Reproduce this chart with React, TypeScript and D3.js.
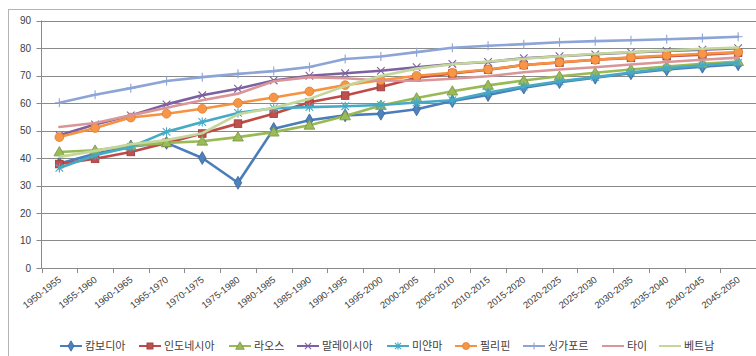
import React from "react";
import * as d3 from "d3";

// Life expectancy by 5-year period, Southeast Asian countries
const periods = [
  "1950-1955", "1955-1960", "1960-1965", "1965-1970", "1970-1975",
  "1975-1980", "1980-1985", "1985-1990", "1990-1995", "1995-2000",
  "2000-2005", "2005-2010", "2010-2015", "2015-2020", "2020-2025",
  "2025-2030", "2030-2035", "2035-2040", "2040-2045", "2045-2050",
];

const cambodia = [38.0, 41.5, 44.2, 45.5, 40.0, 31.0, 50.6, 53.7, 55.5, 56.1, 57.7, 60.7, 62.9, 65.6, 67.6, 69.2, 70.8, 72.2, 73.2, 74.1];
const indonesia = [37.8, 39.7, 42.2, 45.5, 48.9, 52.5, 56.1, 60.3, 62.7, 65.8, 69.2, 70.7, 72.1, 73.8, 74.7, 75.7, 76.4, 77.0, 77.6, 78.3];
const laos = [42.2, 42.8, 44.4, 45.5, 46.1, 47.6, 49.4, 51.9, 55.3, 59.1, 61.8, 64.3, 66.4, 68.2, 69.7, 71.0, 72.2, 73.3, 74.3, 75.1];
const malaysia = [48.3, 52.2, 55.5, 59.5, 62.8, 65.2, 68.2, 69.9, 70.8, 71.7, 73.0, 74.2, 74.9, 76.3, 77.0, 77.7, 78.4, 78.9, 79.4, 79.9];
const myanmar = [36.4, 41.0, 44.0, 49.5, 53.1, 56.4, 58.1, 58.5, 58.8, 59.3, 60.2, 61.0, 63.8, 66.0, 67.9, 69.4, 71.1, 72.6, 73.7, 74.6];
const philippines = [47.6, 50.9, 54.7, 56.1, 57.9, 60.0, 62.0, 64.2, 66.5, 68.3, 69.9, 71.0, 72.2, 73.8, 74.8, 75.7, 76.6, 77.3, 77.9, 78.5];
const singapore = [60.1, 63.0, 65.4, 68.0, 69.4, 70.6, 71.6, 73.1, 76.0, 76.9, 78.5, 80.1, 80.8, 81.4, 82.1, 82.5, 82.8, 83.2, 83.6, 84.1];
const thailand = [51.3, 52.7, 55.5, 58.3, 61.0, 63.4, 67.9, 69.4, 69.0, 68.2, 68.1, 68.8, 69.7, 71.2, 72.2, 73.0, 74.0, 74.9, 75.7, 76.5];
const vietnam = [40.4, 42.6, 45.0, 46.5, 49.0, 55.9, 58.3, 61.5, 66.2, 69.8, 72.5, 74.1, 75.1, 76.1, 77.0, 77.9, 78.5, 79.1, 79.7, 80.2];

const yTicks = [0, 10, 20, 30, 40, 50, 60, 70, 80, 90];

type Marker = "diamond" | "square" | "triangle" | "x" | "star" | "circle" | "plus" | "none";

const series: { name: string; values: number[]; color: string; fill: string; edge: string; marker: Marker }[] = [
  { name: "캄보디아", values: cambodia, color: "#4A7EBB", fill: "#4F81BD", edge: "#3A6396", marker: "diamond" },
  { name: "인도네시아", values: indonesia, color: "#BE4B48", fill: "#C0504D", edge: "#983C3A", marker: "square" },
  { name: "라오스", values: laos, color: "#98B954", fill: "#9BBB59", edge: "#789346", marker: "triangle" },
  { name: "말레이시아", values: malaysia, color: "#7D60A0", fill: "#8064A2", edge: "#7D60A0", marker: "x" },
  { name: "미얀마", values: myanmar, color: "#46AAC5", fill: "#4BACC6", edge: "#46AAC5", marker: "star" },
  { name: "필리핀", values: philippines, color: "#F69240", fill: "#F79646", edge: "#E07E2E", marker: "circle" },
  { name: "싱가포르", values: singapore, color: "#8DA4D6", fill: "#8DA4D6", edge: "#8DA4D6", marker: "plus" },
  { name: "타이", values: thailand, color: "#D99597", fill: "#D99597", edge: "#D99597", marker: "none" },
  { name: "베트남", values: vietnam, color: "#C4D79B", fill: "#C4D79B", edge: "#C4D79B", marker: "none" },
];

const W = 756;
const H = 356;
const plot = { left: 41.5, right: 756, top: 20.5, bottom: 268 };

function MarkerShape({ type, x, y, fill, edge, scale = 1 }: { type: Marker; x: number; y: number; fill: string; edge: string; scale?: number }) {
  const s = scale;
  switch (type) {
    case "diamond":
      return <path d={d3.symbol(d3.symbolDiamond, 48 * s * s)()!} transform={`translate(${x},${y})`} fill={fill} stroke={edge} strokeWidth={0.8} />;
    case "square":
      return <rect x={x - 3.8 * s} y={y - 3.8 * s} width={7.6 * s} height={7.6 * s} fill={fill} stroke={edge} strokeWidth={0.8} />;
    case "triangle":
      return <path d={d3.symbol(d3.symbolTriangle, 50 * s * s)()!} transform={`translate(${x},${y + 0.8})`} fill={fill} stroke={edge} strokeWidth={0.8} />;
    case "circle":
      return <circle cx={x} cy={y} r={4.4 * s} fill={fill} stroke={edge} strokeWidth={0.8} />;
    case "x": {
      const r = 3.8 * s;
      return <path d={`M${x - r},${y - r}L${x + r},${y + r}M${x - r},${y + r}L${x + r},${y - r}`} stroke={edge} strokeWidth={1.1} fill="none" />;
    }
    case "star": {
      const r = 3.8 * s;
      return <path d={`M${x - r},${y - r}L${x + r},${y + r}M${x - r},${y + r}L${x + r},${y - r}M${x},${y - r - 0.8}L${x},${y + r + 0.8}`} stroke={edge} strokeWidth={1.1} fill="none" />;
    }
    case "plus": {
      const r = 4.5 * s;
      return <path d={`M${x - r},${y}L${x + r},${y}M${x},${y - r}L${x},${y + r}`} stroke={edge} strokeWidth={1.1} fill="none" />;
    }
    default:
      return null;
  }
}

export default function App() {
  const x = d3.scaleBand<string>().domain(periods).range([plot.left, plot.right]);
  const y = d3.scaleLinear().domain([0, 90]).range([plot.bottom, plot.top]);
  const cx = (p: string) => (x(p) ?? 0) + x.bandwidth() / 2;
  const line = d3
    .line<number>()
    .x((_, i) => cx(periods[i]))
    .y((v) => y(v));

  const boundaries = [...periods.map((p) => x(p) ?? 0), plot.right];

  // legend layout: line sample, gap, label, spacing
  const legendFont = 11;
  const legendY = 346;
  let lx = 60;
  const legendItems = series.map((s) => {
    const item = { s, x: lx };
    lx += 22 + 3 + s.name.length * legendFont + 10;
    return item;
  });

  return (
    <svg width={W} height={H} style={{ position: "absolute", left: 0, top: 0, background: "#fff" }} xmlns="http://www.w3.org/2000/svg">
      <rect x={8.5} y={9.5} width={W + 20} height={H + 20} fill="#fff" stroke="#b4b4b4" strokeWidth={1} />

      {/* horizontal gridlines and value labels */}
      {yTicks.map((t) => (
        <g key={t}>
          <line x1={plot.left} x2={plot.right} y1={Math.round(y(t)) + 0.5} y2={Math.round(y(t)) + 0.5} stroke="#8a8a8a" strokeWidth={1} />
          <line x1={plot.left - 5} x2={plot.left} y1={Math.round(y(t)) + 0.5} y2={Math.round(y(t)) + 0.5} stroke="#8a8a8a" strokeWidth={1} />
          <text x={31} y={y(t) + 3.5} textAnchor="end" fontFamily="Liberation Sans, Arial, sans-serif" fontSize={10} fill="#404040">
            {t}
          </text>
        </g>
      ))}

      {/* axes */}
      <line x1={plot.left} x2={plot.left} y1={plot.top} y2={plot.bottom + 0.5} stroke="#8a8a8a" strokeWidth={1} />
      {boundaries.map((b, i) => (
        <line key={i} x1={Math.round(b) + 0.5} x2={Math.round(b) + 0.5} y1={plot.bottom} y2={plot.bottom + 5} stroke="#8a8a8a" strokeWidth={1} />
      ))}

      {/* category labels */}
      {periods.map((p) => (
        <text
          key={p}
          transform={`translate(${cx(p) + 2.5},${plot.bottom + 13}) rotate(-38)`}
          textAnchor="end"
          fontFamily="Liberation Sans, Arial, sans-serif"
          fontSize={9.5}
          fill="#404040"
        >
          {p}
        </text>
      ))}

      {/* series lines with markers */}
      {series.map((s) => (
        <g key={s.name}>
          <path d={line(s.values)!} fill="none" stroke={s.color} strokeWidth={2.6} strokeLinejoin="round" strokeLinecap="round" />
          {s.values.map((v, i) => (
            <MarkerShape key={i} type={s.marker} x={cx(periods[i])} y={y(v)} fill={s.fill} edge={s.edge} />
          ))}
        </g>
      ))}

      {/* legend */}
      {legendItems.map(({ s, x: ix }) => (
        <g key={s.name}>
          <line x1={ix} x2={ix + 22} y1={legendY} y2={legendY} stroke={s.color} strokeWidth={2} />
          <MarkerShape type={s.marker} x={ix + 11} y={legendY} fill={s.fill} edge={s.edge} scale={0.8} />
          <text x={ix + 25} y={legendY + 4} fontFamily="Noto Sans CJK KR, sans-serif" fontSize={legendFont} fill="#404040">
            {s.name}
          </text>
        </g>
      ))}
    </svg>
  );
}
